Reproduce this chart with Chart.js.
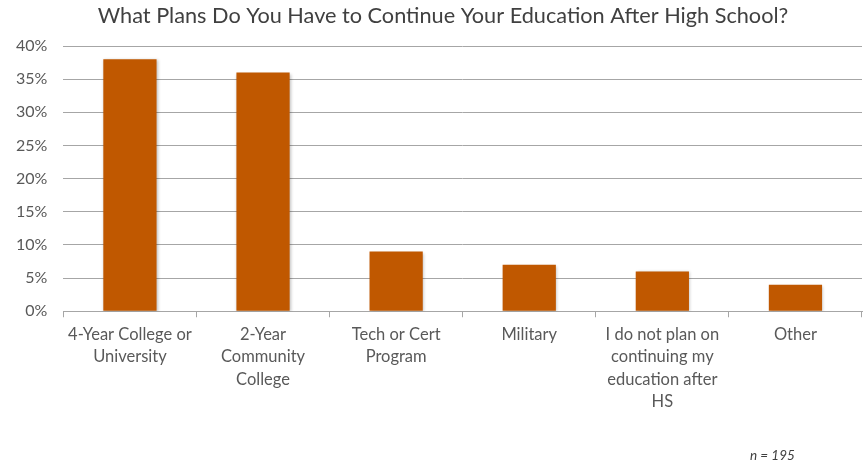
<!DOCTYPE html>
<html>
<head>
<meta charset="utf-8">
<title>Education Plans After High School</title>
<script src="https://cdn.jsdelivr.net/npm/chart.js@4"></script>
<style>
    html, body { margin: 0; padding: 0; background: #fff; }
    .chart-wrap { position: relative; width: 864px; height: 469px; }
</style>
</head>
<body>
<div class="chart-wrap"><canvas id="plansChart"></canvas></div>
<script>
// --- Chart data ---
const categories = [
    ['4-Year College or', 'University'],
    ['2-Year', 'Community', 'College'],
    ['Tech or Cert', 'Program'],
    ['Military'],
    ['I do not plan on', 'continuing my', 'education after', 'HS'],
    ['Other']
];
const percentValues = [38, 36, 9, 7, 6, 4];
const yTicks = [0, 5, 10, 15, 20, 25, 30, 35, 40];
const chartTitle = 'What Plans Do You Have to Continue Your Education After High School?';
const sampleNote = 'n = 195';

const FONT = "Lato, 'Open Sans', sans-serif";

// title and footnote drawn by hand so they sit where the original has them
const chartTexts = {
    id: 'chartTexts',
    afterDraw(chart) {
        const ctx = chart.ctx;
        ctx.save();
        ctx.fillStyle = '#404040';
        ctx.textBaseline = 'middle';

        ctx.font = '21.7px ' + FONT;
        ctx.textAlign = 'center';
        ctx.fillText(chartTitle, 443, 16);

        ctx.font = 'italic 13.5px ' + FONT;
        ctx.textAlign = 'left';
        ctx.fillText(sampleNote, 750, 456);
        ctx.restore();
    }
};

// soft shadow under the bars, like the office chart
const barShadow = {
    id: 'barShadow',
    beforeDatasetsDraw(chart) {
        const ctx = chart.ctx;
        ctx.save();
        ctx.shadowColor = 'rgba(0,0,0,0.25)';
        ctx.shadowBlur = 3;
        ctx.shadowOffsetX = 1;
        ctx.shadowOffsetY = 1;
    },
    afterDatasetsDraw(chart) {
        chart.ctx.restore();
    }
};

new Chart(document.getElementById('plansChart'), {
    type: 'bar',
    data: {
        labels: categories,
        datasets: [{
            data: percentValues,
            backgroundColor: '#c05800',
            borderWidth: 0,
            barPercentage: 0.4,
            categoryPercentage: 1
        }]
    },
    options: {
        responsive: true,
        maintainAspectRatio: false,
        animation: false,
        layout: {
            padding: { top: 46, right: 2, bottom: 50, left: 0 }
        },
        plugins: {
            legend: { display: false },
            tooltip: { enabled: false },
            title: { display: false }
        },
        scales: {
            y: {
                min: 0,
                max: 40,
                afterBuildTicks: (axis) => {
                    axis.ticks = yTicks.map(v => ({ value: v }));
                },
                ticks: {
                    color: '#595959',
                    font: { family: FONT, size: 16 },
                    padding: 16,
                    callback: (v) => v + '%'
                },
                grid: {
                    color: '#a6a6a6',
                    lineWidth: 1,
                    drawTicks: false
                },
                border: { display: false }
            },
            x: {
                ticks: {
                    color: '#595959',
                    font: { family: FONT, size: 16.5, lineHeight: 1.36 },
                    padding: 6,
                    maxRotation: 0,
                    autoSkip: false
                },
                grid: {
                    offset: true,
                    drawOnChartArea: false,
                    drawTicks: true,
                    tickLength: 6,
                    color: '#a6a6a6'
                },
                border: { display: true, color: '#a6a6a6' }
            }
        }
    },
    plugins: [barShadow, chartTexts]
});
</script>
</body>
</html>
